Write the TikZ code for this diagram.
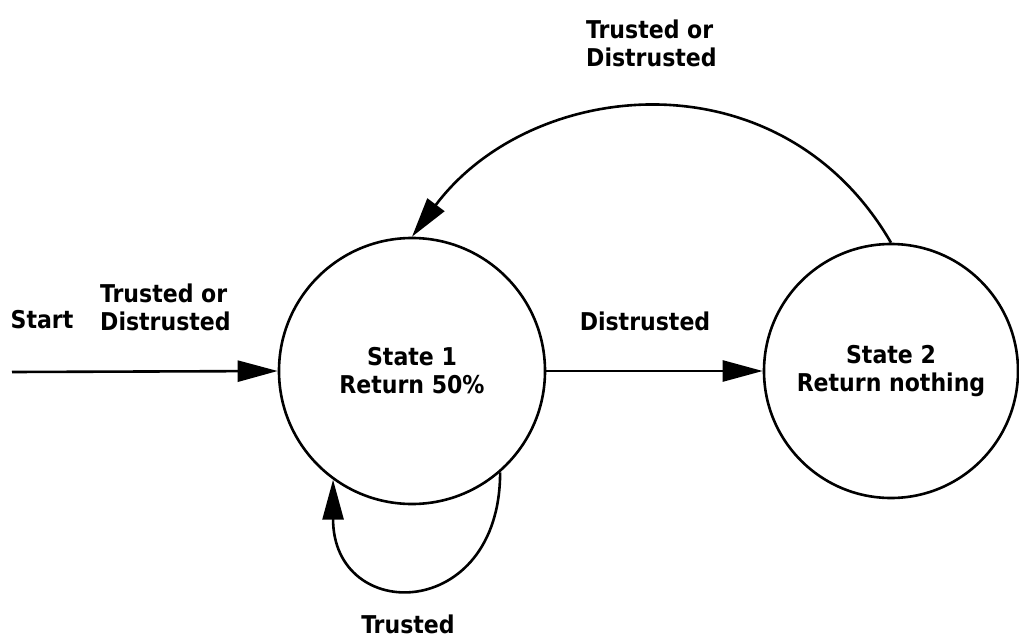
\documentclass[tikz,border=0pt]{standalone}
\usepackage{fontspec}
\setmainfont{DejaVu Sans Condensed}
\usetikzlibrary{arrows.meta}
\begin{document}
\begin{tikzpicture}[x=1pt,y=-1pt,
  every node/.style={font=\bfseries\fontsize{24.5}{28}\selectfont, inner sep=0pt},
  state/.style={circle, draw, line width=2.6pt, align=center},
  edge/.style={line width=2.6pt, -{Triangle[length=40pt,width=21pt]}},
  lbl/.style={align=left}]
  % page frame
  \useasboundingbox (0,0) rectangle (1019,637);

  % states
  \node[state, minimum size=266pt] (s1) at (412,371) {State 1\\Return 50\%};
  \node[state, minimum size=254pt] (s2) at (891,371) {State 2\\Return nothing};

  % entry point
  \coordinate (start) at (12,372);
  \draw[edge] (start) -- (s1.west);
  \node (startlbl) at (42,320) {Start};
  \node[lbl, anchor=west] (entrylbl) at (100,307) {Trusted or\\Distrusted};

  % transitions
  \draw[edge] (s1.east) -- (s2.west);
  \node (distlbl) at (645,321) {Distrusted};

  \draw[edge] (s2.north) .. controls +(-110,-190) and +(120,-160) .. (s1.north);
  \node[lbl, anchor=west] (backlbl) at (586,43) {Trusted or\\Distrusted};

  \draw[edge] (s1.-49) .. controls +(0,150) and +(0,145) .. (s1.-126);
  \node (looplbl) at (408,624) {Trusted};
\end{tikzpicture}
\end{document}
